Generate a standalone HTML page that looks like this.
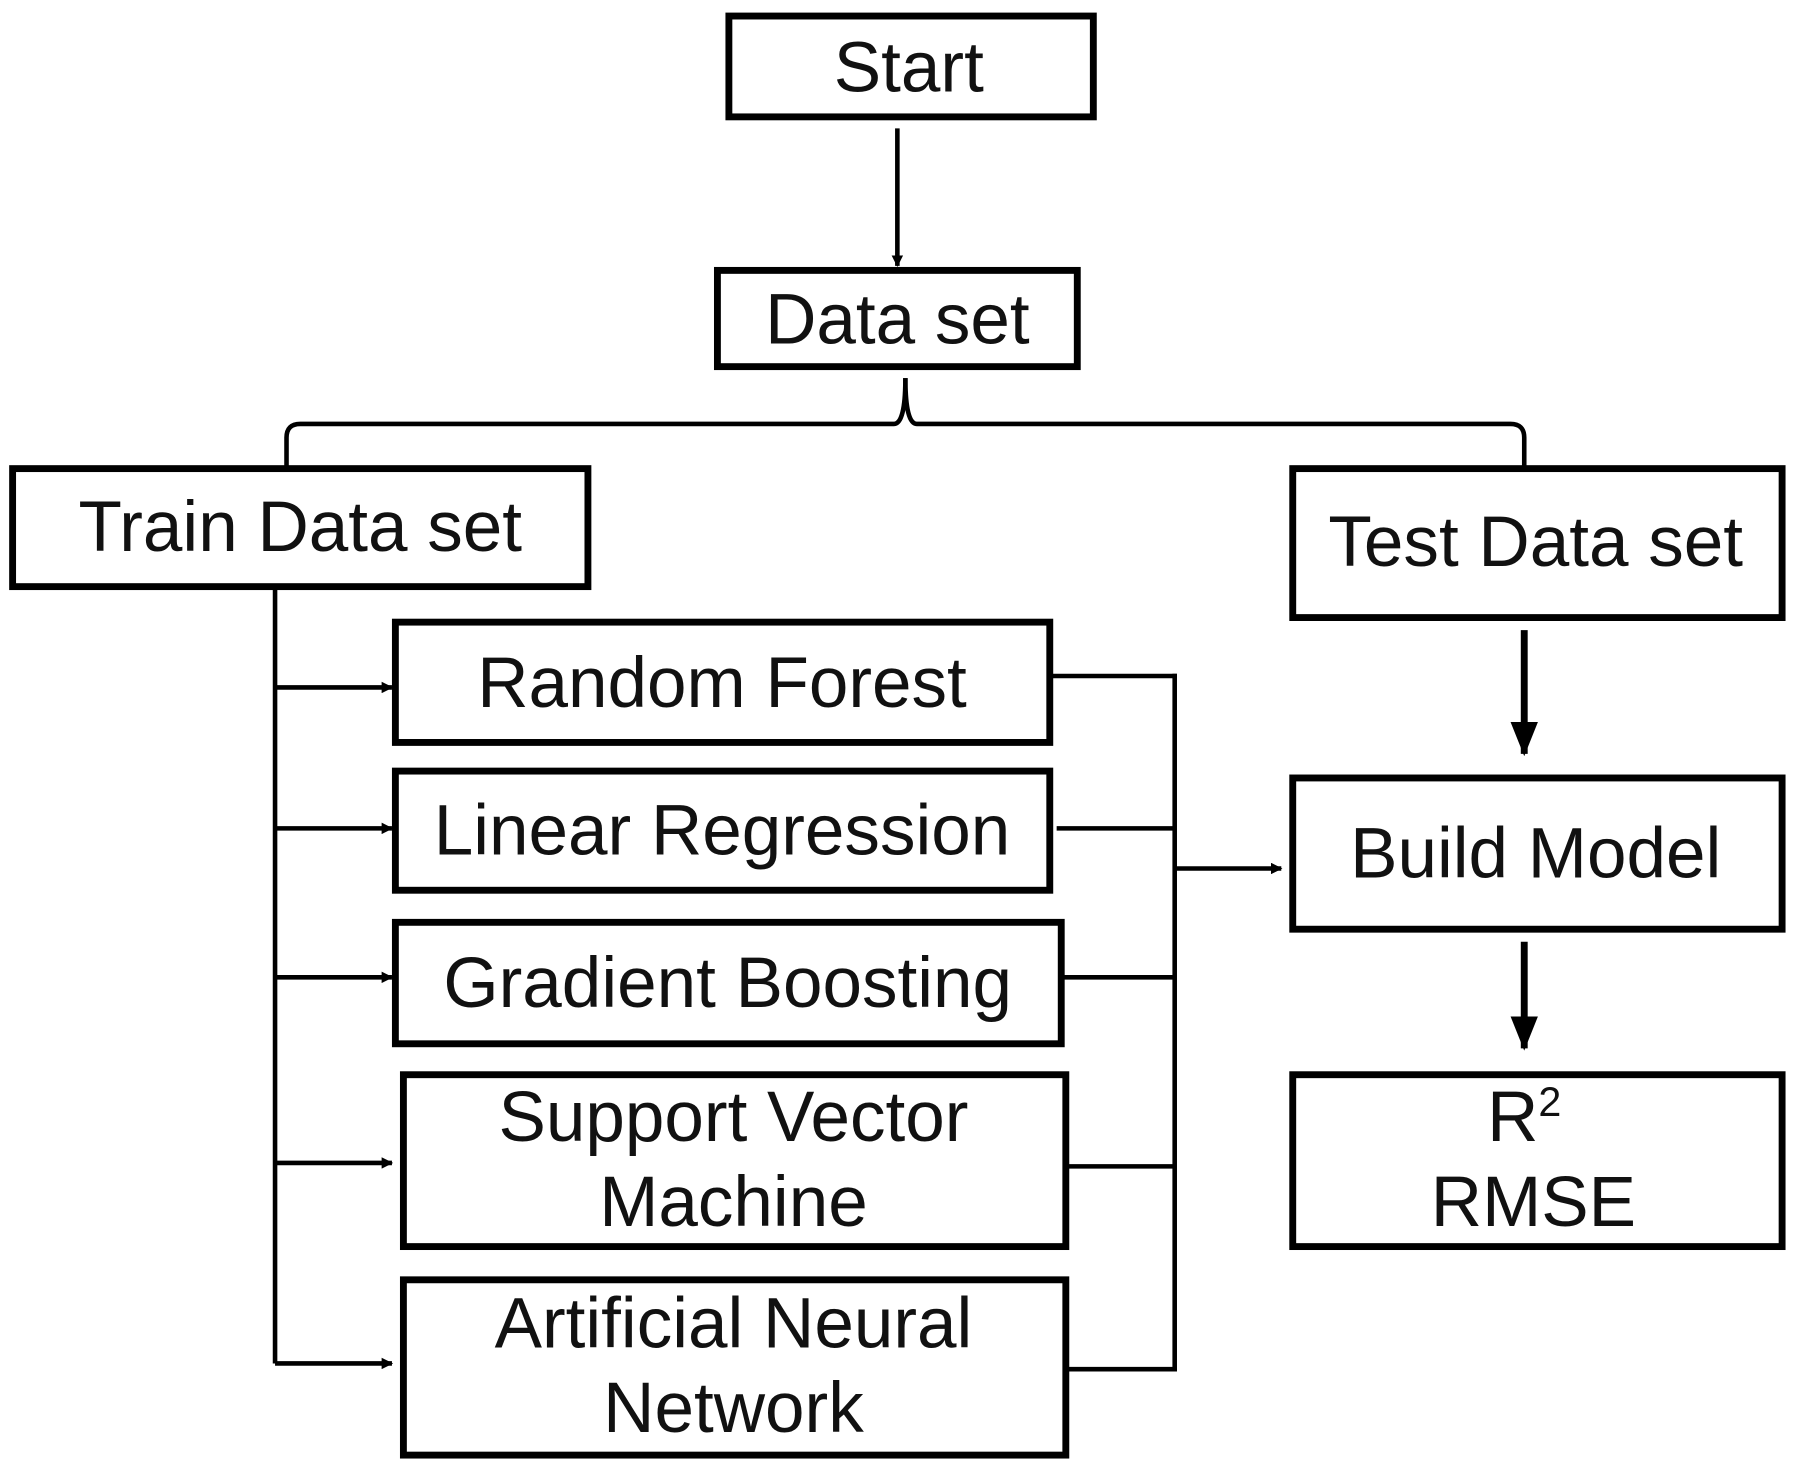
<!DOCTYPE html>
<html><head><meta charset="utf-8"><style>
html,body{margin:0;padding:0;background:#fff;width:1797px;height:1470px;overflow:hidden}
svg{display:block}
text{font-family:"Liberation Sans",Arial,sans-serif;font-size:62px;fill:#111;text-anchor:middle}
</style></head><body>
<svg width="1797" height="1470" viewBox="0 0 1568 1283" preserveAspectRatio="none">
<defs>
<marker id="a" markerWidth="10" markerHeight="10" refX="9" refY="5" orient="auto" markerUnits="userSpaceOnUse"><path d="M0,0 L10,5 L0,10 z" fill="#000"/></marker>
<marker id="b" markerWidth="30" markerHeight="24" refX="28" refY="12" orient="auto" markerUnits="userSpaceOnUse"><path d="M0,0 L30,12 L0,24 z" fill="#000"/></marker>
</defs>
<g fill="none" stroke="#000" stroke-width="6">
<rect x="636" y="14" width="318" height="88"/>
<rect x="626" y="236" width="314" height="84"/>
<rect x="11" y="409" width="502" height="103"/>
<rect x="1128" y="409" width="427" height="130"/>
<rect x="345" y="543" width="571" height="105"/>
<rect x="345" y="673" width="571" height="104"/>
<rect x="345" y="805" width="581" height="106"/>
<rect x="352" y="938" width="578" height="150"/>
<rect x="352" y="1117" width="578" height="153"/>
<rect x="1128" y="679" width="427" height="132"/>
<rect x="1128" y="938" width="427" height="150"/>
</g>
<g fill="none" stroke="#000" stroke-width="4">
<line x1="783" y1="112" x2="783" y2="232" marker-end="url(#a)"/>
<path d="M790 330 Q790 370 780 370 L262 370 Q250 370 250 382 L250 409"/>
<path d="M790 330 Q790 370 800 370 L1318 370 Q1330 370 1330 382 L1330 409"/>
<line x1="240" y1="512" x2="240" y2="1190"/>
<line x1="240" y1="600" x2="342" y2="600" marker-end="url(#a)"/>
<line x1="240" y1="723" x2="342" y2="723" marker-end="url(#a)"/>
<line x1="240" y1="853" x2="342" y2="853" marker-end="url(#a)"/>
<line x1="240" y1="1015" x2="342" y2="1015" marker-end="url(#a)"/>
<line x1="240" y1="1190" x2="342" y2="1190" marker-end="url(#a)"/>
<line x1="1025" y1="588" x2="1025" y2="1197"/>
<line x1="916" y1="590" x2="1027" y2="590"/>
<line x1="922" y1="723" x2="1025" y2="723"/>
<line x1="926" y1="853" x2="1025" y2="853"/>
<line x1="930" y1="1018" x2="1025" y2="1018"/>
<line x1="930" y1="1195" x2="1027" y2="1195"/>
<line x1="1025" y1="758" x2="1118" y2="758" marker-end="url(#a)"/>
<line x1="1330" y1="550" x2="1330" y2="658" stroke-width="6" marker-end="url(#b)"/>
<line x1="1330" y1="822" x2="1330" y2="915" stroke-width="6" marker-end="url(#b)"/>
</g>
<text x="793" y="80">Start</text>
<text x="783" y="300">Data set</text>
<text x="262" y="481">Train Data set</text>
<text x="1340" y="494">Test Data set</text>
<text x="630" y="617">Random Forest</text>
<text x="630" y="746">Linear Regression</text>
<text x="635" y="879">Gradient Boosting</text>
<text x="640" y="996">Support Vector</text>
<text x="640" y="1070">Machine</text>
<text x="640" y="1176">Artificial Neural</text>
<text x="640" y="1250">Network</text>
<text x="1340" y="766">Build Model</text>
<text x="1330" y="996">R<tspan font-size="36" dy="-22">2</tspan></text>
<text x="1338" y="1070">RMSE</text>
</svg>
</body></html>
